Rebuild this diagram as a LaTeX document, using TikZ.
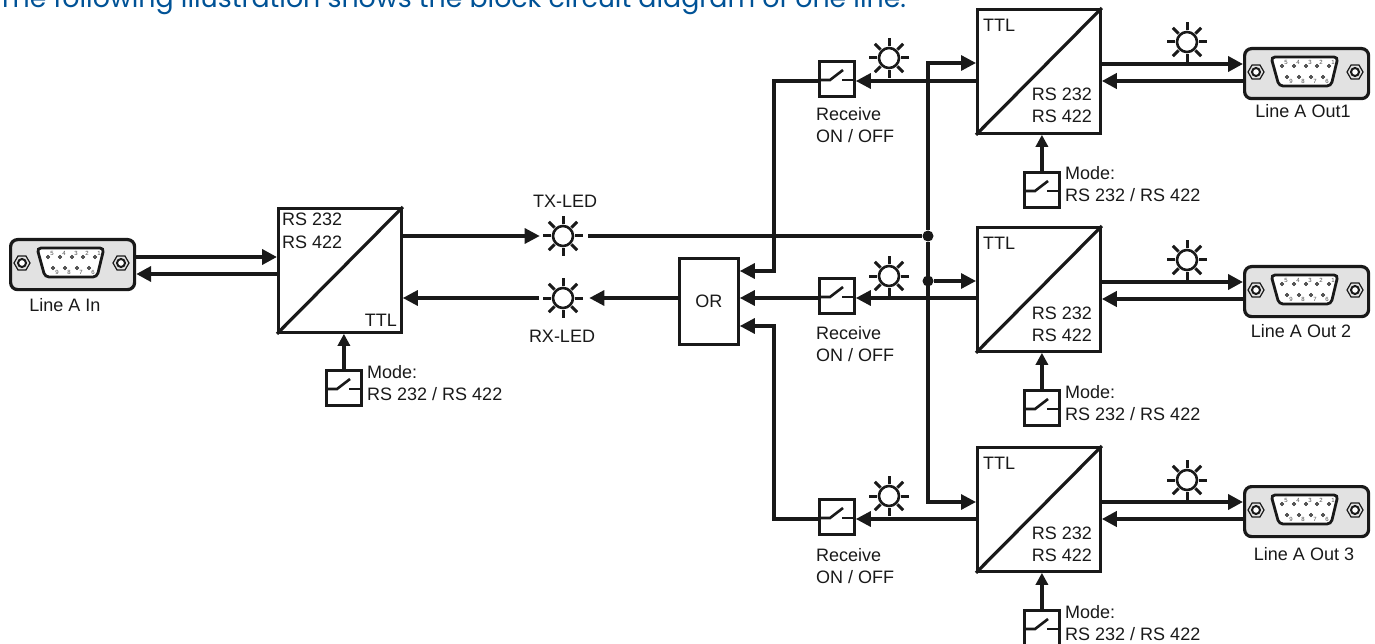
\documentclass[tikz,border=0pt]{standalone}
\usepackage{fontspec}
\setmainfont{Liberation Sans}
\newfontfamily\headfont{Poppins}
\usetikzlibrary{arrows.meta,shapes.geometric}
\definecolor{headblue}{RGB}{0,82,150}
\definecolor{inkgrey}{RGB}{25,25,25}
\definecolor{plugfill}{RGB}{226,226,226}

\begin{document}
\begin{tikzpicture}[x=1pt,y=-1pt,>={Triangle[length=15pt,width=15pt]},
  every node/.style={text=inkgrey,font=\fontsize{18}{22}\selectfont}]
 \tikzstyle{sig} = [line width=3.2pt,inkgrey]
 \tikzstyle{heavy} = [line width=4.4pt,inkgrey]
 \tikzstyle{modeline} = [line width=4pt,inkgrey,-{Triangle[length=12pt,width=12pt]}]
 \tikzstyle{convbox} = [draw=inkgrey,line width=2.8pt,anchor=north west,inner sep=0,minimum width=123pt,minimum height=124pt]
 \tikzstyle{gatebox} = [draw=inkgrey,line width=2.8pt,anchor=north west,inner sep=0,minimum width=59pt,minimum height=86pt]
 \tikzstyle{swbox} = [draw=inkgrey,line width=2.8pt,anchor=north west,inner sep=0,minimum size=35pt]
 \tikzstyle{lampbody} = [draw=inkgrey,line width=2.6pt,circle,inner sep=0,minimum size=20pt]
 \tikzstyle{lampray} = [line width=3pt,inkgrey]
 \tikzstyle{junction} = [fill=inkgrey,circle,inner sep=0,minimum size=11pt]
 \tikzstyle{plugbody} = [draw=inkgrey,fill=plugfill,line width=3.2pt,anchor=north west,inner sep=0,rounded corners=7pt,minimum width=124pt,minimum height=50pt]
 \tikzstyle{plugshell} = [draw=inkgrey,fill=white,line width=2.8pt,rounded corners=4pt]
 \tikzstyle{nut} = [draw=inkgrey,fill=plugfill,line width=1.2pt,regular polygon,regular polygon sides=6,inner sep=0,minimum size=16pt]
 \tikzstyle{nuthole} = [draw=inkgrey,fill=white,line width=2pt,circle,inner sep=0,minimum size=8pt]
 \tikzstyle{pinhole} = [draw=inkgrey,line width=0.8pt]
 \tikzstyle{pinno} = [font=\fontsize{6}{6}\selectfont,text=black!70,inner sep=0]
 \tikzstyle{txt} = [anchor=base west,inner sep=0,align=left]
 \tikzstyle{ctxt} = [anchor=base,inner sep=0]

 % one LED: name, x, y
 \newcommand{\lamp}[3]{%
  \node[lampbody] (#1) at (#2,#3) {};
  \foreach \a in {0,45,...,315} \draw[lampray] (#1.center) ++(\a:12) -- ++(\a:8);
 }
 % one switch: name, x, y of upper left corner
 \newcommand{\switchbox}[3]{%
  \node[swbox] (#1) at (#2,#3) {};
  \draw[sig,line width=2.6pt] (#2,#3+20) -- (#2+12,#3+20) -- (#2+25,#3+10);
  \draw[sig,line width=2.6pt] (#2+24,#3+20) -- (#2+35,#3+20);
 }
 % one converter: name, x, y of upper left corner
 \newcommand{\converter}[3]{%
  \node[convbox] (#1) at (#2,#3) {};
  \draw[sig] (#1.south west) -- (#1.north east);
 }
 % one 9 pin plug: name, x, y of upper left corner
 \newcommand{\plug}[3]{%
  \begin{scope}[shift={(#2,#3)}]
   \node[plugbody] (#1) at (0,0) {};
   \draw[plugshell] (28,10) -- (95,10) -- (88,39) -- (36,39) -- cycle;
   \node[nut] (#1s1) at (13,25) {}; \node[nuthole] (#1h1) at (13,25) {};
   \node[nut] (#1s2) at (112,25) {}; \node[nuthole] (#1h2) at (112,25) {};
   \draw[pinhole] (39,19) circle (1.5) (51,19) circle (1.5) (63,19) circle (1.5) (74,19) circle (1.5) (86,19) circle (1.5);
   \draw[pinhole] (44,30) circle (1.5) (56,30) circle (1.5) (68,30) circle (1.5) (80,30) circle (1.5);
   \node[pinno] (#1p5) at (43,15) {5}; \node[pinno] (#1p4) at (55,15) {4};
   \node[pinno] (#1p3) at (67,15) {3}; \node[pinno] (#1p2) at (78,15) {2};
   \node[pinno] (#1p1) at (90,15) {1};
   \node[pinno] (#1p9) at (48,34) {9}; \node[pinno] (#1p8) at (60,34) {8};
   \node[pinno] (#1p7) at (72,34) {7}; \node[pinno] (#1p6) at (84,34) {6};
  \end{scope}
 }

 \useasboundingbox (0,0) rectangle (1375,644);

% Heading (cut by the upper edge)
 \node[anchor=base west,inner sep=0,text=headblue,font=\headfont\fontsize{26.8}{30}\selectfont] (heading) at (-2,8) {The following illustration shows the block circuit diagram of one line.};

% Input side
 \plug{plugin}{9}{238}
 \converter{convin}{277}{207}
 \switchbox{modein}{325}{369}
 \lamp{txled}{563}{236}
 \lamp{rxled}{563}{298}
 \node[gatebox] (orgate) at (678,257) {OR};
 \node[txt] (rsin) at (282,248) {RS 232\\RS 422};
 \node[anchor=base east,inner sep=0] (ttlin) at (397,326) {TTL};
 \node[ctxt] (lblin) at (65,311) {Line A In};
 \node[txt] (lblmodein) at (367,400) {Mode:\\RS 232 / RS 422};
 \node[ctxt] (lbltx) at (565,208) {TX-LED};
 \node[ctxt] (lblrx) at (562,342) {RX-LED};

% Output branches
 \converter{conva}{976}{8}
 \converter{convb}{976}{226}
 \converter{convc}{976}{446}
 \plug{pluga}{1243}{47}
 \plug{plugb}{1243}{265}
 \plug{plugc}{1243}{485}
 \switchbox{recva}{818}{60}
 \switchbox{recvb}{818}{277}
 \switchbox{recvc}{818}{498}
 \switchbox{modea}{1023}{171}
 \switchbox{modeb}{1023}{389}
 \switchbox{modec}{1023}{609}
 \lamp{lampa}{889}{58}
 \lamp{lampb}{889}{276}
 \lamp{lampc}{889}{496}
 \lamp{outa}{1187}{42}
 \lamp{outb}{1187}{260}
 \lamp{outc}{1187}{480}

% Texts of the branches
 \node[anchor=base west,inner sep=0] (ttla) at (983,32) {TTL};
 \node[anchor=base west,inner sep=0] (ttlb) at (983,250) {TTL};
 \node[anchor=base west,inner sep=0] (ttlc) at (983,469) {TTL};
 \node[txt,anchor=base east,align=right] (rsa) at (1092,123) {RS 232\\RS 422};
 \node[txt,anchor=base east,align=right] (rsb) at (1092,341) {RS 232\\RS 422};
 \node[txt,anchor=base east,align=right] (rsc) at (1092,561) {RS 232\\RS 422};
 \node[txt] (lblrecva) at (816,143) {Receive\\ON / OFF};
 \node[txt] (lblrecvb) at (816,361) {Receive\\ON / OFF};
 \node[txt] (lblrecvc) at (816,583) {Receive\\ON / OFF};
 \node[txt] (lblmodea) at (1065,202) {Mode:\\RS 232 / RS 422};
 \node[txt] (lblmodeb) at (1065,420) {Mode:\\RS 232 / RS 422};
 \node[txt] (lblmodec) at (1065,640) {Mode:\\RS 232 / RS 422};
 \node[ctxt] (lblouta) at (1303,118) {Line A Out1};
 \node[ctxt] (lbloutb) at (1301,337) {Line A Out 2};
 \node[ctxt] (lbloutc) at (1304,560) {Line A Out 3};

% Junctions
 \node[junction] (txdot) at (928,236) {};
 \node[junction] (rxdot) at (928,281) {};
 \coordinate (orbus) at (774,298);

% Input side connectors
 \draw[heavy,->] (plugin.east |- 0,257) -- (convin.west |- 0,257);
 \draw[heavy,<-] (plugin.east |- 0,274) -- (convin.west |- 0,274);
 \draw[modeline] (modein.north) -- (modein.north |- convin.south);
 \draw[sig,->,shorten >=12pt] (convin.east |- 0,236) -- (txled.west);
 \draw[sig] (txled.east) ++(14,0) -- (txdot);
 \draw[sig,->,shorten >=15pt] (orgate.west |- 0,298) -- (rxled.east);
 \draw[sig,->,shorten <=13pt] (rxled.west) -- (convin.east |- 0,298);

% TX distribution
 \draw[sig,->] (txdot) |- (conva.west |- 0,63);
 \draw[sig,->] (txdot) |- (convc.west |- 0,502);
 \draw[sig] (txdot) -- (rxdot);
 \draw[sig,->] (rxdot) -- (convb.west |- rxdot);

% RX collection
 \draw[sig,->] (conva.west |- 0,81) -- (recva.east |- 0,81);
 \draw[sig,->] (convb.west |- 0,298) -- (recvb.east |- 0,298);
 \draw[sig,->] (convc.west |- 0,519) -- (recvc.east |- 0,519);
 \draw[sig,->] (recva.west |- 0,81) -| (orbus |- 0,271) -- (orgate.east |- 0,271);
 \draw[sig,->] (recvb.west |- 0,298) -- (orgate.east |- 0,298);
 \draw[sig,->] (recvc.west |- 0,519) -| (orbus |- 0,326) -- (orgate.east |- 0,326);

% Plugs of the branches
 \draw[heavy,->] (conva.east |- 0,64) -- (pluga.west |- 0,64);
 \draw[heavy,<-] (conva.east |- 0,81) -- (pluga.west |- 0,81);
 \draw[heavy,->] (convb.east |- 0,282) -- (plugb.west |- 0,282);
 \draw[heavy,<-] (convb.east |- 0,299) -- (plugb.west |- 0,299);
 \draw[heavy,->] (convc.east |- 0,502) -- (plugc.west |- 0,502);
 \draw[heavy,<-] (convc.east |- 0,519) -- (plugc.west |- 0,519);

% Mode switches
 \draw[modeline] (modea.north) -- (modea.north |- conva.south);
 \draw[modeline] (modeb.north) -- (modeb.north |- convb.south);
 \draw[modeline] (modec.north) -- (modec.north |- convc.south);
\end{tikzpicture}
\end{document}
